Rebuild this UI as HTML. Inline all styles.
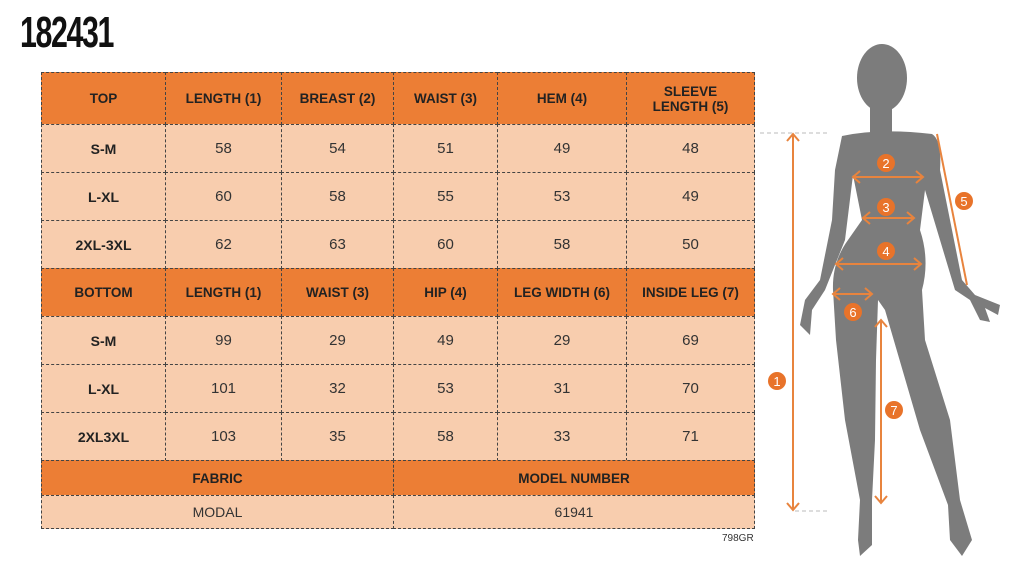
<!DOCTYPE html>
<html><head><meta charset="utf-8"><style>
body{margin:0;width:1024px;height:568px;background:#fff;position:relative;overflow:hidden;font-family:"Liberation Sans",sans-serif}
.t{position:absolute;left:20px;top:8px;font-family:"Liberation Sans Narrow","Liberation Sans",sans-serif;font-weight:bold;font-size:44px;letter-spacing:-2px;color:#111;transform:scaleX(0.69);transform-origin:left top}
.c{position:absolute;box-sizing:border-box;border:1px dashed #444;display:flex;align-items:center;justify-content:center;text-align:center;font-size:14px;color:#222}
.h{background:#EC7E35;font-weight:bold;font-size:13.5px}
.d{background:#F8CDAE}
.b{font-weight:bold}
.v{font-size:15px;color:#333}
</style></head><body>
<div class="t">182431</div>
<div id="tb"></div>
<div style="position:absolute;left:722px;top:533px;font-size:10px;color:#333">798GR</div>
<script>
var xs=[41,165,281,393,497,626,754];
var ys=[72,124,172,220,268,316,364,412,460,495,528];
var rows=[
["h",["TOP","LENGTH (1)","BREAST (2)","WAIST (3)","HEM (4)","SLEEVE<br>LENGTH (5)"]],
["d",["S-M","58","54","51","49","48"]],
["d",["L-XL","60","58","55","53","49"]],
["d",["2XL-3XL","62","63","60","58","50"]],
["h",["BOTTOM","LENGTH (1)","WAIST (3)","HIP (4)","LEG WIDTH (6)","INSIDE LEG (7)"]],
["d",["S-M","99","29","49","29","69"]],
["d",["L-XL","101","32","53","31","70"]],
["d",["2XL3XL","103","35","58","33","71"]]];
var h="";
rows.forEach(function(r,i){r[1].forEach(function(t,j){
var cls=r[0]=="h"?"h":(j==0?"d b":"d v");
h+='<div class="c '+cls+'" style="left:'+xs[j]+'px;top:'+ys[i]+'px;width:'+(xs[j+1]-xs[j]+1)+'px;height:'+(ys[i+1]-ys[i]+1)+'px">'+t+'</div>';});});
h+='<div class="c h" style="left:41px;top:460px;width:353px;height:36px">FABRIC</div>';
h+='<div class="c h" style="left:393px;top:460px;width:362px;height:36px">MODEL NUMBER</div>';
h+='<div class="c d" style="left:41px;top:495px;width:353px;height:34px;color:#333">MODAL</div>';
h+='<div class="c d" style="left:393px;top:495px;width:362px;height:34px;color:#333">61941</div>';
document.getElementById("tb").innerHTML=h;
</script>
<svg width="1024" height="568" style="position:absolute;left:0;top:0">
<g fill="#7c7c7c">
<ellipse cx="882" cy="78" rx="25" ry="34"/>
<rect x="870" y="100" width="22" height="36"/>
<path d="M842,136 Q880,128 932,134 Q942,140 940,170 L952,230 L962,280 L975,295 L1000,305 L998,315 L985,308 L990,322 L980,320 L970,300 L955,290 L940,240 L925,190 L920,230 Q930,260 922,290 L925,340 L950,420 L960,500 L972,540 L962,556 L950,540 L948,505 L920,430 L885,310 L878,300 L876,360 L875,440 L872,500 L872,545 L860,556 L858,540 L860,500 L845,420 L836,340 L833,290 Q832,262 848,240 L862,220 L853,175 L845,240 L825,290 L812,310 L810,335 L800,325 L805,300 L820,280 L832,220 L835,170 Z"/>
</g>
<g stroke="#E8843E" stroke-width="2" fill="none">
<line x1="793" y1="134" x2="793" y2="510"/><path d="M787,141 L793,134 L799,141 M787,503 L793,510 L799,503"/>
<line x1="853" y1="177" x2="923" y2="177"/><path d="M860,171 L853,177 L860,183 M916,171 L923,177 L916,183"/>
<line x1="863" y1="218" x2="914" y2="218"/><path d="M870,212 L863,218 L870,224 M907,212 L914,218 L907,224"/>
<line x1="836" y1="264" x2="921" y2="264"/><path d="M843,258 L836,264 L843,270 M914,258 L921,264 L914,270"/>
<line x1="937" y1="134" x2="967" y2="285"/>
<line x1="833" y1="294" x2="872" y2="294"/><path d="M840,288 L833,294 L840,300 M865,288 L872,294 L865,300"/>
<line x1="881" y1="320" x2="881" y2="503"/><path d="M875,327 L881,320 L887,327 M875,496 L881,503 L887,496"/>
</g>
<g stroke="#bbb" stroke-dasharray="4,3"><line x1="760" y1="133" x2="830" y2="133"/><line x1="795" y1="511" x2="828" y2="511"/></g>
<g fill="#E8732A"><circle cx="777" cy="381" r="9"/><circle cx="886" cy="163" r="9"/><circle cx="886" cy="207" r="9"/><circle cx="886" cy="251" r="9"/><circle cx="964" cy="201" r="9"/><circle cx="853" cy="312" r="9"/><circle cx="894" cy="410" r="9"/></g>
<g fill="#fff" font-size="13" font-family="Liberation Sans" text-anchor="middle"><text x="777" y="386">1</text><text x="886" y="168">2</text><text x="886" y="212">3</text><text x="886" y="256">4</text><text x="964" y="206">5</text><text x="853" y="317">6</text><text x="894" y="415">7</text></g>
</svg>
</body></html>
